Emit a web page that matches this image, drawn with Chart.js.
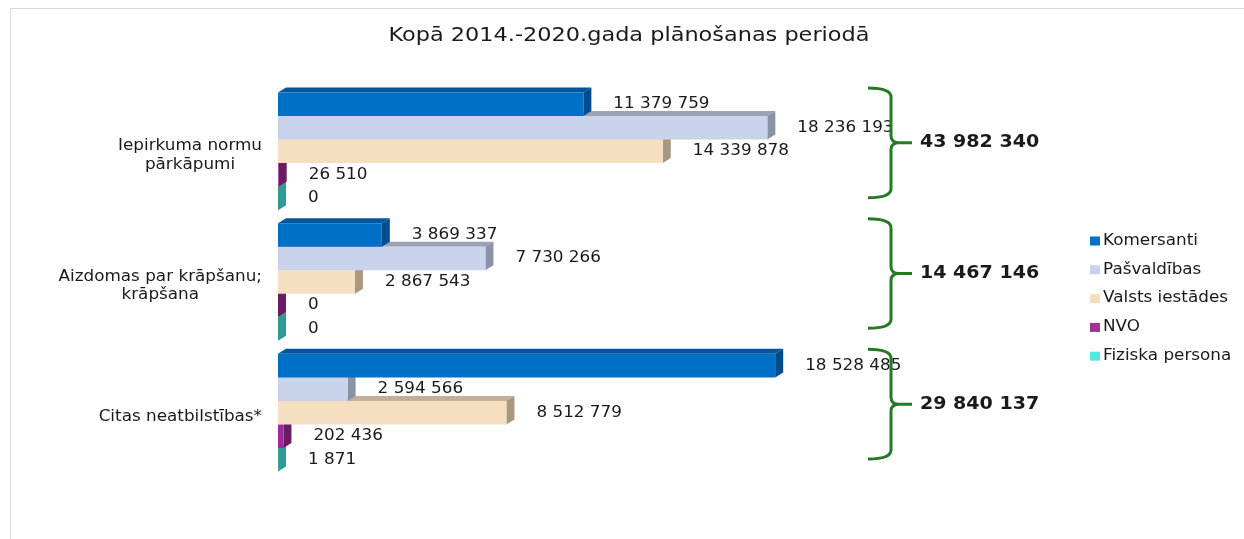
<!DOCTYPE html>
<html>
<head>
<meta charset="utf-8">
<title>Kopā 2014.-2020.gada plānošanas periodā</title>
<script src="https://cdn.jsdelivr.net/npm/chart.js@4.4.1/dist/chart.umd.min.js"></script>
<style>
  html, body { margin: 0; padding: 0; background: #fff; }
  canvas { display: block; }
</style>
</head>
<body>
<canvas id="chart" width="1244" height="539"></canvas>
<script>
// chart data
const chartTitle = 'Kopā 2014.-2020.gada plānošanas periodā';
const categories = [['Iepirkuma normu', 'pārkāpumi'], ['Aizdomas par krāpšanu;', 'krāpšana'], ['Citas neatbilstības*']];
const seriesNames = ['Komersanti', 'Pašvaldības', 'Valsts iestādes', 'NVO', 'Fiziska persona'];
const komersanti = [11379759, 3869337, 18528485];
const pasvaldibas = [18236193, 7730266, 2594566];
const valstsIestades = [14339878, 2867543, 8512779];
const nvo = [26510, 0, 202436];
const fiziskaPersona = [0, 0, 1871];
const seriesValues = [komersanti, pasvaldibas, valstsIestades, nvo, fiziskaPersona];

// colours: front face, top face, side face, legend swatch
const frontColors = ['#0070c6', '#cad3ec', '#f5dfc0', '#a0289a', '#4de6de'];
const topColors = ['#00569c', '#9ba2b3', '#c2b096', '#7a1f72', '#35b0a8'];
const sideColors = ['#004c8c', '#8a92a6', '#a89880', '#6a1c62', '#2e9c94'];
const legendColors = ['#0070c8', '#c8d2ec', '#f5dec0', '#a0309a', '#50eae2'];

const FONT = '"DejaVu Sans", Verdana, sans-serif';
const TEXT_COLOR = '#1a1a1a';
const BRACE_COLOR = '#267a26';
const STRETCH = 1.12;   // text in the reference is a bit wider than tall
const DEPTH_X = 8, DEPTH_Y = 5;

function formatNumber(v) {
    return String(v).replace(/\B(?=(\d{3})+(?!\d))/g, ' ');
}

// draws text slightly stretched horizontally
function drawText(ctx, text, x, y, align) {
    const w = ctx.measureText(text).width * STRETCH;
    let left = x;
    if (align === 'center') left = x - w / 2;
    else if (align === 'right') left = x - w;
    ctx.save();
    ctx.translate(left, y);
    ctx.scale(STRETCH, 1);
    ctx.textAlign = 'left';
    ctx.fillText(text, 0, 0);
    ctx.restore();
}

const totals = categories.map((_, i) => seriesValues.reduce((s, arr) => s + arr[i], 0));

const decorPlugin = {
    id: 'decor',
    beforeDraw(chart) {
        const ctx = chart.ctx;
        ctx.save();
        ctx.fillStyle = '#fff';
        ctx.fillRect(0, 0, chart.width, chart.height);
        ctx.strokeStyle = '#d9d9d9';
        ctx.lineWidth = 1;
        ctx.strokeRect(10.5, 8.5, 1400, 700);
        // title
        ctx.fillStyle = TEXT_COLOR;
        ctx.font = '20px ' + FONT;
        ctx.textBaseline = 'middle';
        drawText(ctx, chartTitle, 629, 36, 'center');
        ctx.restore();
    },
    beforeDatasetDraw(chart, args) {
        // 3D top and side faces of each bar
        const ctx = chart.ctx;
        const i = args.index;
        ctx.save();
        args.meta.data.forEach(el => {
            const x0 = el.base, x1 = el.x;
            const yTop = el.y - el.height / 2, yBot = el.y + el.height / 2;
            ctx.fillStyle = topColors[i];
            ctx.beginPath();
            ctx.moveTo(x0, yTop);
            ctx.lineTo(x0 + DEPTH_X, yTop - DEPTH_Y);
            ctx.lineTo(x1 + DEPTH_X, yTop - DEPTH_Y);
            ctx.lineTo(x1, yTop);
            ctx.closePath();
            ctx.fill();
            ctx.fillStyle = sideColors[i];
            ctx.beginPath();
            ctx.moveTo(x1, yTop);
            ctx.lineTo(x1 + DEPTH_X, yTop - DEPTH_Y);
            ctx.lineTo(x1 + DEPTH_X, yBot - DEPTH_Y);
            ctx.lineTo(x1, yBot);
            ctx.closePath();
            ctx.fill();
        });
        ctx.restore();
    },
    afterDatasetsDraw(chart) {
        const ctx = chart.ctx;
        const area = chart.chartArea;
        const yScale = chart.scales.y;
        const band = (area.bottom - area.top) / categories.length;
        ctx.save();
        ctx.fillStyle = TEXT_COLOR;
        ctx.textBaseline = 'middle';

        // value labels
        ctx.font = '15px ' + FONT;
        chart.data.datasets.forEach((ds, i) => {
            chart.getDatasetMeta(i).data.forEach((el, j) => {
                drawText(ctx, formatNumber(ds.data[j]), el.x + DEPTH_X + 22, el.y, 'left');
            });
        });

        // category labels, lines centred, block right aligned
        categories.forEach((lines, j) => {
            const cy = yScale.getPixelForValue(j) + 4;
            const lh = 18.7;
            const widest = Math.max(...lines.map(l => ctx.measureText(l).width)) * STRETCH;
            const cx = area.left - 16 - widest / 2;
            lines.forEach((l, k) => {
                drawText(ctx, l, cx, cy + (k - (lines.length - 1) / 2) * lh, 'center');
            });
        });

        // braces with totals
        ctx.strokeStyle = BRACE_COLOR;
        ctx.lineWidth = 3;
        ctx.lineCap = 'butt';
        const xa = area.left + 590, xv = area.left + 613, xt = area.left + 634;
        categories.forEach((_, j) => {
            const top = area.top + band * j + 2;
            const bot = area.top + band * (j + 1) - 19;
            const mid = (top + bot) / 2;
            ctx.beginPath();
            ctx.moveTo(xa, top);
            ctx.quadraticCurveTo(xv, top, xv, top + 9);
            ctx.lineTo(xv, mid - 7);
            ctx.quadraticCurveTo(xv, mid, xv + 8, mid);
            ctx.lineTo(xt, mid);
            ctx.moveTo(xv + 8, mid);
            ctx.quadraticCurveTo(xv, mid, xv, mid + 7);
            ctx.lineTo(xv, bot - 9);
            ctx.quadraticCurveTo(xv, bot, xa, bot);
            ctx.stroke();
            ctx.font = 'bold 17px ' + FONT;
            drawText(ctx, formatNumber(totals[j]), area.left + 642, mid, 'left');
        });

        // legend
        ctx.font = '15px ' + FONT;
        seriesNames.forEach((name, i) => {
            const y = 241 + i * 28.8;
            ctx.fillStyle = legendColors[i];
            ctx.fillRect(1090, y - 4.5, 10, 9);
            ctx.fillStyle = TEXT_COLOR;
            drawText(ctx, name, 1103, y, 'left');
        });
        ctx.restore();
    }
};

const ctx = document.getElementById('chart').getContext('2d');
new Chart(ctx, {
    type: 'bar',
    data: {
        labels: categories,
        datasets: seriesNames.map((name, i) => ({
            label: name,
            data: seriesValues[i],
            backgroundColor: frontColors[i],
            borderWidth: 0,
            categoryPercentage: 0.9,
            barPercentage: 1.0
        }))
    },
    options: {
        indexAxis: 'y',
        responsive: false,
        animation: false,
        devicePixelRatio: 1,
        layout: { padding: { left: 278, right: 0, top: 86, bottom: 61 } },
        scales: {
            x: { display: false, min: 0, max: 36000000 },
            y: { display: false }
        },
        plugins: {
            legend: { display: false },
            tooltip: { enabled: false },
            title: { display: false }
        }
    },
    plugins: [decorPlugin]
});
</script>
</body>
</html>
